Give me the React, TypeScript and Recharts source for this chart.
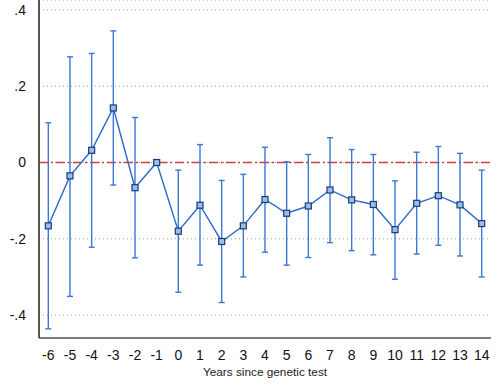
import React from 'react';
import { ComposedChart, Line, XAxis, YAxis, CartesianGrid, ReferenceLine, ErrorBar } from 'recharts';

const years = [-6, -5, -4, -3, -2, -1, 0, 1, 2, 3, 4, 5, 6, 7, 8, 9, 10, 11, 12, 13, 14];
const coefs = [-0.166, -0.035, 0.032, 0.143, -0.066, 0, -0.18, -0.112, -0.207, -0.166, -0.097, -0.133, -0.114, -0.072, -0.098, -0.11, -0.176, -0.107, -0.087, -0.111, -0.16];
const ciLow = [-0.436, -0.351, -0.222, -0.059, -0.25, 0, -0.34, -0.269, -0.367, -0.3, -0.235, -0.269, -0.249, -0.21, -0.231, -0.242, -0.306, -0.24, -0.217, -0.245, -0.3];
const ciHigh = [0.104, 0.277, 0.286, 0.345, 0.118, 0, -0.02, 0.047, -0.047, -0.031, 0.04, 0.002, 0.021, 0.065, 0.034, 0.021, -0.048, 0.027, 0.042, 0.024, -0.02];
const yTicks = [-0.4, -0.2, 0, 0.2, 0.4];

const data = years.map((yr, i) => ({
  year: yr,
  coef: coefs[i],
  ci: [coefs[i] - ciLow[i], ciHigh[i] - coefs[i]],
}));

const fmtY = (v: number) => {
  if (v === 0) return '0';
  const s = v.toFixed(1);
  return s.replace('0.', '.');
};

const SquareDot = (props: any) => {
  const { cx, cy, index } = props;
  if (cx == null || cy == null) return null;
  return (
    <rect
      key={`sq-${index}`}
      x={cx - 3}
      y={cy - 3}
      width={6}
      height={6}
      fill="#9dbde8"
      stroke="#173b78"
      strokeWidth={1.2}
    />
  );
};

export default function App() {
  return (
    <div style={{ position: 'fixed', left: 0, top: 0, background: '#fff', fontFamily: '"Liberation Sans", Arial, sans-serif' }}>
      <ComposedChart width={498} height={385} data={data} margin={{ top: 0, right: 7, bottom: 22, left: 0 }}>
        <CartesianGrid vertical={false} stroke="#9a9a9a" strokeDasharray="1 3" />
        <XAxis
          dataKey="year"
          type="number"
          domain={[-6.43, 14.43]}
          ticks={years}
          interval={0}
          tickLine={false}
          axisLine={{ stroke: '#555', strokeWidth: 1.5 }}
          tick={{ fill: '#111', fontSize: 14 }}
          tickMargin={6}
          height={25}
          label={{ value: 'Years since genetic test', position: 'insideBottom', offset: -13, fill: '#222', fontSize: 11.8 }}
        />
        <YAxis
          type="number"
          domain={[-0.46, 0.426]}
          ticks={yTicks}
          tickFormatter={fmtY}
          tickLine={false}
          axisLine={{ stroke: '#555', strokeWidth: 2 }}
          tick={{ fill: '#111', fontSize: 14 }}
          tickMargin={7}
          width={39}
          allowDataOverflow
        />
        <ReferenceLine y={0} stroke="#d23c3c" strokeWidth={1.3} strokeDasharray="9 3 2 3" />
        <Line
          dataKey="coef"
          stroke="#2a68cc"
          strokeWidth={1.4}
          dot={<SquareDot />}
          isAnimationActive={false}
        >
          <ErrorBar dataKey="ci" direction="y" width={3} stroke="#3a78d4" strokeWidth={1.4} />
        </Line>
      </ComposedChart>
    </div>
  );
}
